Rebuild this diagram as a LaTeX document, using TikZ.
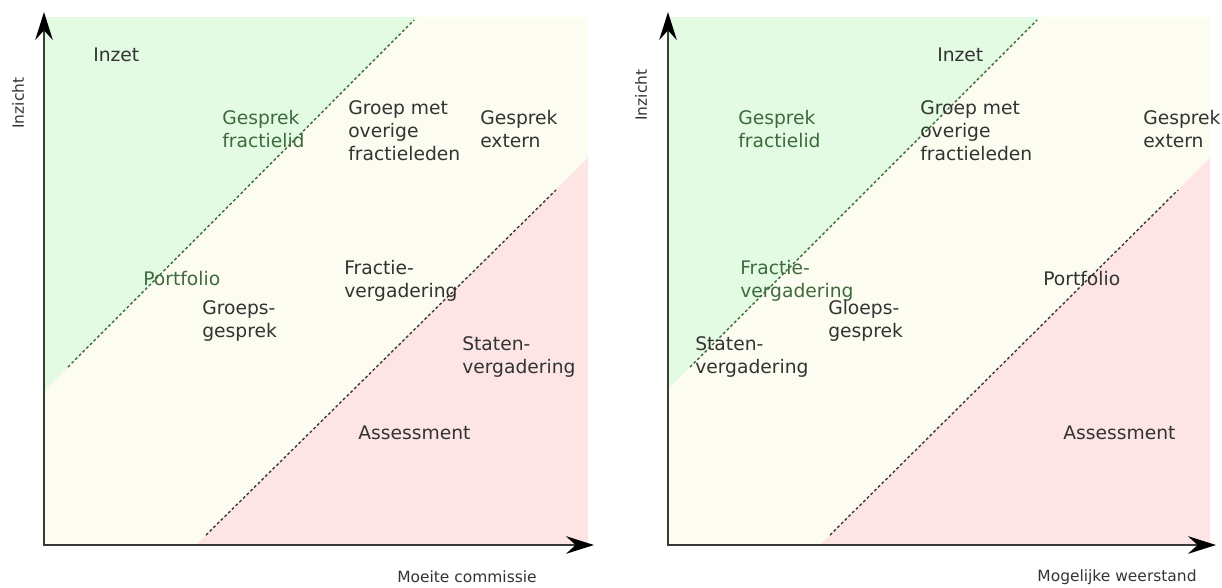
\documentclass[tikz,border=0pt]{standalone}
\usepackage{fontspec}
\setmainfont{DejaVu Sans}
\usepackage{xcolor}
\usetikzlibrary{arrows.meta,positioning}
\definecolor{zgreen}{HTML}{E3FBE3}
\definecolor{zcream}{HTML}{FCFCF0}
\definecolor{zpink}{HTML}{FDE5E6}
\definecolor{txtgray}{HTML}{333333}
\definecolor{txtgreen}{HTML}{3E6A3E}
\definecolor{axgray}{HTML}{3A3A3A}
\newcommand{\lblfont}{\fontsize{13.3}{16.6}\selectfont}
\newcommand{\axfont}{\fontsize{11}{13}\selectfont}

\begin{document}
\begin{tikzpicture}[
  x=0.025cm, y=-0.025cm,
  lbl/.style={anchor=north west, align=left, inner sep=0pt, font=\lblfont, text=txtgray},
  lblg/.style={lbl, text=txtgreen},
  axlbl/.style={inner sep=0pt, font=\axfont, text=txtgray},
  gsep/.style={draw=txtgreen, line width=1pt, dash pattern=on 2pt off 1.7pt},
  psep/.style={draw=axgray, line width=1pt, dash pattern=on 2pt off 1.7pt},
  ax/.style={{Stealth[length=7mm,width=4.4mm,inset=2.4mm,black]}-{Stealth[length=7mm,width=4.4mm,inset=2.4mm,black]},
             line width=1.4pt, draw=axgray, line join=miter}
]
\useasboundingbox (0,0) rectangle (1222,587);
% ---- Panel 1: Moeite commissie ----
\fill[zcream] (44,17) rectangle (588,545);
\fill[zgreen] (44,17) -- (417,17) -- (44,391) -- cycle;
\fill[zpink] (588,158) -- (588,545) -- (196,545) -- cycle;
\coordinate (g1a) at (68,367);
\coordinate (g1b) at (414,20);
\coordinate (p1a) at (206,535);
\coordinate (p1b) at (556,190);
\draw[gsep] (g1a) -- (g1b);
\draw[psep] (p1a) -- (p1b);
\coordinate (o1) at (44,545);
\coordinate (ytip1) at (44,12);
\coordinate (xtip1) at (594,545);
\draw[ax] (ytip1) -- (o1) -- (xtip1);
\node[axlbl, rotate=90] (yl1) at (18,103) {Inzicht};
\node[axlbl] (xl1) at (467,577) {Moeite commissie};
\node[lbl] (inz1) at (93,48) {Inzet};
\node[lblg] (gfr1) at (222,110) {Gesprek\\fractielid};
\node[lbl] (grp1) at (348,100) {Groep met\\overige\\fractieleden};
\node[lbl] (gex1) at (480,110) {Gesprek\\extern};
\node[lblg] (prt1) at (143,271) {Portfolio};
\node[lbl] (frv1) at (344,260) {Fractie-\\vergadering};
\node[lbl] (ggs1) at (202,300) {Groeps-\\gesprek};
\node[lbl] (stv1) at (462,336) {Staten-\\vergadering};
\node[lbl] (ass1) at (358,426) {Assessment};
% ---- Panel 2: Mogelijke weerstand ----
\fill[zcream] (668,17) rectangle (1210,545);
\fill[zgreen] (668,17) -- (1040,17) -- (668,389) -- cycle;
\fill[zpink] (1210,158) -- (1210,545) -- (820,545) -- cycle;
\coordinate (g2a) at (690,367);
\coordinate (g2b) at (1037,20);
\coordinate (p2a) at (830,535);
\coordinate (p2b) at (1178,190);
\draw[gsep] (g2a) -- (g2b);
\draw[psep] (p2a) -- (p2b);
\coordinate (o2) at (668,545);
\coordinate (ytip2) at (668,12);
\coordinate (xtip2) at (1216,545);
\draw[ax] (ytip2) -- (o2) -- (xtip2);
\node[axlbl, rotate=90] (yl2) at (641,95) {Inzicht};
\node[axlbl] (xl2) at (1117,577) {Mogelijke weerstand};
\node[lbl] (inz2) at (937,48) {Inzet};
\node[lblg] (gfr2) at (738,110) {Gesprek\\fractielid};
\node[lbl] (grp2) at (920,100) {Groep met\\overige\\fractieleden};
\node[lbl] (gex2) at (1143,110) {Gesprek\\extern};
\node[lblg] (frv2) at (740,260) {Fractie-\\vergadering};
\node[lbl] (ggs2) at (828,300) {Gloeps-\\gesprek};
\node[lbl] (stv2) at (695,336) {Staten-\\vergadering};
\node[lbl] (prt2) at (1043,271) {Portfolio};
\node[lbl] (ass2) at (1063,426) {Assessment};
\end{tikzpicture}
\end{document}
